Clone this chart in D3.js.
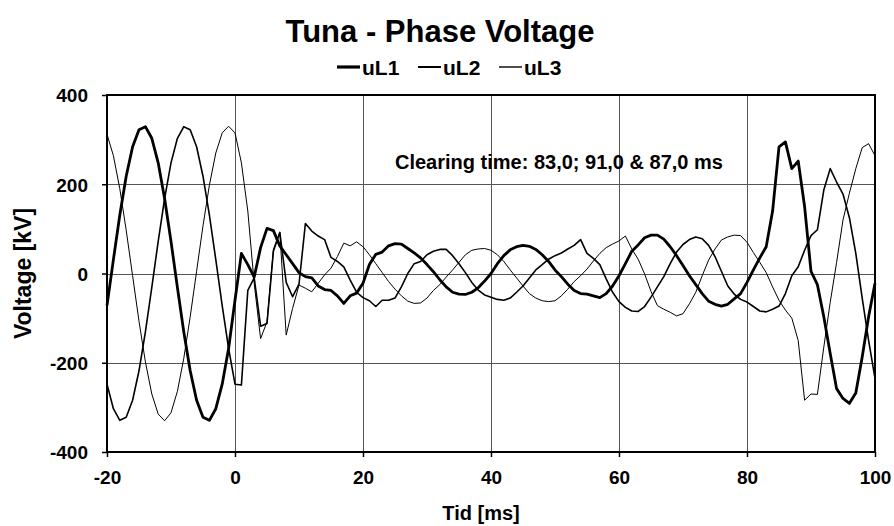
<!DOCTYPE html>
<html>
<head>
<meta charset="utf-8">
<script src="https://cdn.jsdelivr.net/npm/d3@7"></script>
<style>
  body { margin: 0; background: #fff; }
  svg { display: block; font-family: "Liberation Sans", Arial, sans-serif; font-weight: bold; }
</style>
</head>
<body>
<svg id="chart" width="894" height="526"></svg>
<script>
// sample times, one every ms from -20 to 100
const times = d3.range(-20, 101);

// phase voltages [kV]
const uL1 = [
  -72, 31, 131, 218, 284, 322, 329, 303, 248, 168, 72, -31, -131, -218, -284, -322, -329, -303, -248, -168,
  -60, 45, 20, -8, 58, 101, 96, 62, 42, 22, 2, -7, -10, -28, -36, -38, -50, -67, -50, -44,
  -22, 20, 43, 48, 62, 67, 66, 56, 46, 35, 20, 4, -14, -30, -42, -46, -47, -42, -32, -17,
  0, 22, 40, 53, 60, 63, 61, 54, 42, 27, 8, -7, -24, -38, -45, -46, -50, -54, -45, -28,
  -5, 22, 50, 64, 80, 86, 86, 77, 60, 40, 18, -5, -25, -45, -62, -69, -73, -69, -57, -45,
  -20, 8, 35, 60, 140, 284, 295, 235, 252, 150, 5, -25, -97, -179, -258, -280, -291, -268, -187, -97, -22
];
const uL2 = [
  -248, -303, -329, -322, -284, -218, -131, -31, 72, 168, 248, 303, 329, 322, 284, 218, 131, 31, -72, -168,
  -248, -250, -38, -10, -118, -112, 50, 92, -20, -52, -24, 112, 95, 84, 76, 36, 27, 15, -15, -42,
  -54, -61, -74, -60, -60, -55, -30, 0, 22, 27, 42, 50, 54, 54, 40, 22, 2, -20, -37, -48,
  -53, -58, -60, -55, -42, -28, -10, 8, 20, 32, 40, 46, 55, 63, 76, 45, 34, 20, -12, -42,
  -63, -76, -84, -85, -74, -53, -30, -7, 22, 48, 65, 76, 82, 78, 63, 38, 5, -28, -46, -58,
  -64, -74, -84, -86, -80, -73, -45, -5, 15, 52, 85, 98, 187, 235, 205, 178, 125, 45, -55, -150, -235
];
const uL3 = [
  312, 264, 190, 97, -5, -107, -198, -270, -315, -330, -312, -264, -190, -97, 5, 107, 198, 270, 315, 330,
  315, 248, 140, -22, -146, -108, 54, 93, -138, -78, -26, -33, -41, -22, -3, 12, 38, 68, 62, 71,
  60, 42, 22, 2, -18, -35, -50, -62, -67, -66, -55, -38, -25, -8, 8, 25, 42, 52, 55, 56,
  52, 42, 27, 8, -10, -28, -45, -55, -61, -63, -61, -50, -35, -18, -5, 10, 28, 45, 58, 66,
  73, 84, 55, 32, -1, -40, -72, -80, -87, -95, -90, -68, -42, -5, 30, 55, 75, 82, 86, 85,
  70, 47, 25, 2, -30, -60, -82, -100, -150, -284, -270, -271, -165, -65, 25, 120, 180, 235, 282, 291, 264
];

const seriesNames = ['uL1', 'uL2', 'uL3'];
const xTicks = [-20, 0, 20, 40, 60, 80, 100];
const yTicks = [-400, -200, 0, 200, 400];
const note = 'Clearing time: 83,0; 91,0 & 87,0 ms';

const series = [uL1, uL2, uL3];
const strokeWidths = [2.8, 1.6, 1.0];

const svg = d3.select('#chart');
const W = 894, H = 526;
const margin = { top: 95, right: 19, bottom: 74, left: 107 };

const x = d3.scaleLinear().domain([-20, 100]).range([margin.left, W - margin.right]);
const y = d3.scaleLinear().domain([-400, 400]).range([H - margin.bottom, margin.top]);

// plain hyphen minus like the original, not d3's unicode minus
const fmt = d => String(d);

// grid
svg.append('g')
    .attr('transform', `translate(0,${margin.top})`)
    .call(d3.axisBottom(x).tickValues(xTicks).tickSize(y(-400) - y(400)).tickFormat(''))
    .call(g => g.select('.domain').remove())
    .call(g => g.selectAll('line').attr('stroke', '#555').attr('shape-rendering', 'crispEdges'));

svg.append('g')
    .attr('transform', `translate(${margin.left},0)`)
    .call(d3.axisRight(y).tickValues(yTicks).tickSize(x(100) - x(-20)).tickFormat(''))
    .call(g => g.select('.domain').remove())
    .call(g => g.selectAll('line').attr('stroke', '#555').attr('shape-rendering', 'crispEdges'));

// axes with outside ticks
const xAxis = svg.append('g')
    .attr('transform', `translate(0,${y(-400)})`)
    .call(d3.axisBottom(x).tickValues(xTicks).tickSize(5).tickPadding(14).tickFormat(fmt));
const yAxis = svg.append('g')
    .attr('transform', `translate(${x(-20)},0)`)
    .call(d3.axisLeft(y).tickValues(yTicks).tickSize(5).tickPadding(14).tickFormat(fmt));

[xAxis, yAxis].forEach(g => {
    g.select('.domain').remove();
    g.selectAll('line').attr('stroke', '#000').attr('stroke-width', 1.5);
    g.selectAll('text')
        .attr('fill', '#000')
        .style('font-size', '19px')
        .style('font-weight', 'bold')
        .style('font-family', '"Liberation Sans", Arial, sans-serif');
});
yAxis.selectAll('text').attr('x', -19).attr('dy', '0.36em');
xAxis.selectAll('text').attr('dy', '0.71em');

// lines
const line = d3.line()
    .x((d, i) => x(times[i]))
    .y(d => y(d));

series.forEach((s, k) => {
    svg.append('path')
        .datum(s)
        .attr('fill', 'none')
        .attr('stroke', '#000')
        .attr('stroke-width', strokeWidths[k])
        .attr('stroke-linejoin', 'round')
        .attr('d', line);
});

// plot frame
svg.append('rect')
    .attr('x', x(-20))
    .attr('y', y(400))
    .attr('width', x(100) - x(-20))
    .attr('height', y(-400) - y(400))
    .attr('fill', 'none')
    .attr('stroke', '#000')
    .attr('stroke-width', 2);

// annotation
svg.append('text')
    .attr('x', 395)
    .attr('y', 169)
    .style('font-size', '20px')
    .text(note);

// title
svg.append('text')
    .attr('x', 440)
    .attr('y', 42)
    .attr('text-anchor', 'middle')
    .style('font-size', '31px')
    .text('Tuna - Phase Voltage');

// legend
const legendX = [337, 418, 499];
seriesNames.forEach((name, k) => {
    const lg = svg.append('g').attr('transform', `translate(${legendX[k]},67)`);
    lg.append('line')
        .attr('x1', 0).attr('x2', 23)
        .attr('stroke', '#000')
        .attr('stroke-width', strokeWidths[k] + 0.4);
    lg.append('text')
        .attr('x', 25)
        .attr('y', 8)
        .style('font-size', '21px')
        .text(name);
});

// axis titles
svg.append('text')
    .attr('x', 481)
    .attr('y', 520)
    .attr('text-anchor', 'middle')
    .style('font-size', '20px')
    .text('Tid [ms]');

svg.append('text')
    .attr('transform', `translate(31,${(y(400) + y(-400)) / 2}) rotate(-90)`)
    .attr('text-anchor', 'middle')
    .style('font-size', '23px')
    .text('Voltage [kV]');
</script>
</body>
</html>
